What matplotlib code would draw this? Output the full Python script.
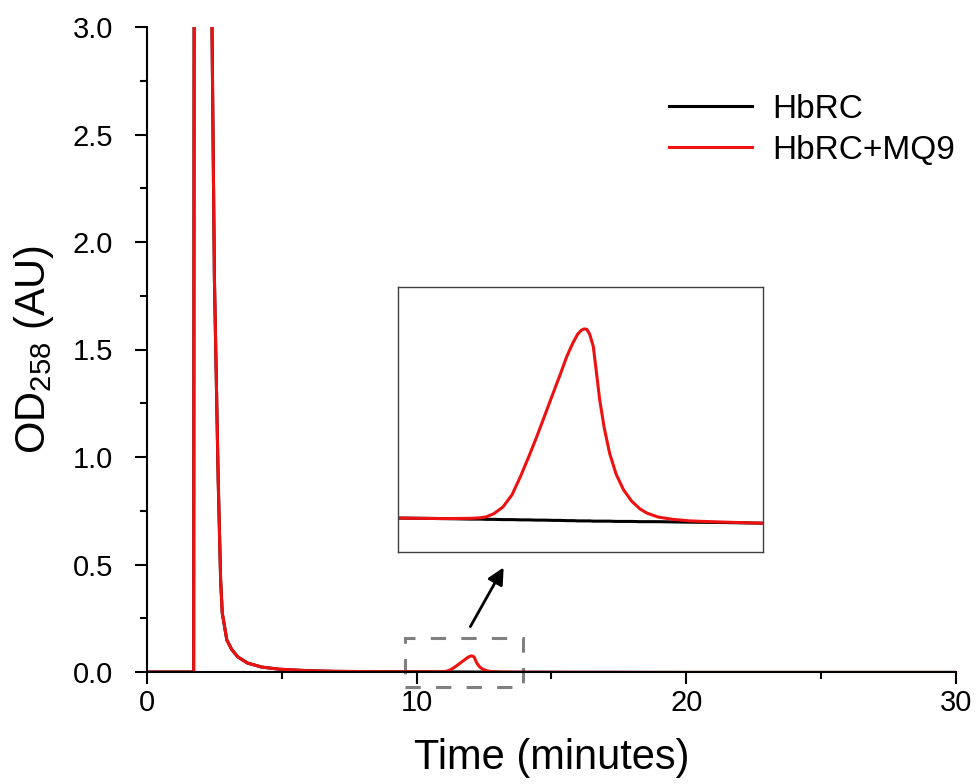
import numpy as np
import matplotlib
matplotlib.use("Agg")
import matplotlib.pyplot as plt
from matplotlib.patches import Rectangle
from matplotlib.ticker import MultipleLocator, FormatStrFormatter

plt.rcParams['font.family'] = ['Liberation Sans', 'DejaVu Sans']
plt.rcParams['mathtext.fontset'] = 'custom'
plt.rcParams['mathtext.rm'] = 'Liberation Sans'

# elution time (minutes) and OD258 readings
time = [0, 1.73, 1.75, 2.36, 2.41, 2.50, 2.64, 2.73, 2.79, 2.96, 3.14, 3.37, 3.72,
        4.25, 4.90, 6.00, 7.00, 8.00, 9.00, 10.0, 10.5, 10.80, 10.90, 10.97, 11.05,
        11.15, 11.25, 11.34, 11.43, 11.52, 11.61, 11.70, 11.78, 11.85, 11.92, 11.97,
        12.01, 12.04, 12.07, 12.10, 12.14, 12.18, 12.21, 12.26, 12.32, 12.39, 12.47,
        12.56, 12.65, 12.73, 12.85, 13.01, 13.2, 13.5, 14.0, 16.0, 20.0, 25.0, 30.0]
hbrc = [0, 0, 3.6, 3.6, 3.0, 1.83, 0.894, 0.43, 0.275, 0.149, 0.105, 0.07, 0.042,
        0.023, 0.013, 0.006, 0.003, 0.002, 0.0012, 0.0009, 0.0007, 0.0005, 0.0005,
        0.0004, 0.0004, 0.0003, 0.0003, 0.0002, 0.0002, 0.0001, 0.0001, 0.0, 0.0,
        -0.0001, -0.0001, -0.0002, -0.0002, -0.0002, -0.0002, -0.0002, -0.0003,
        -0.0003, -0.0003, -0.0003, -0.0003, -0.0004, -0.0004, -0.0004, -0.0005,
        -0.0005, -0.0005, -0.0006, -0.0007, -0.0008, -0.0011, -0.0015, -0.002,
        -0.002, -0.002]
hbrc_mq9 = [0, 0, 3.6, 3.6, 3.0, 1.83, 0.894, 0.43, 0.275, 0.149, 0.105, 0.07, 0.042,
            0.023, 0.013, 0.006, 0.003, 0.002, 0.0012, 0.0009, 0.0007, 0.0008, 0.0010,
            0.0014, 0.0026, 0.0052, 0.0100, 0.0169, 0.0245, 0.0325, 0.0410, 0.0495,
            0.0570, 0.0638, 0.0693, 0.0725, 0.0740, 0.0745, 0.0743, 0.0725, 0.0677,
            0.0560, 0.0470, 0.0360, 0.0260, 0.0180, 0.0120, 0.0075, 0.0045, 0.0028,
            0.0013, 0.0004, -0.0002, -0.0006, -0.0011, -0.0015, -0.002, -0.002, -0.002]
labels = ["HbRC", "HbRC+MQ9"]

fig = plt.figure(figsize=(9.79, 7.84), dpi=100)
ax = fig.add_axes([147 / 979, 1 - 672 / 784, 809 / 979, 645 / 784])

ax.plot(time, hbrc, color='black', lw=2.2, label=labels[0])
ax.plot(time, hbrc_mq9, color='#ee1111', lw=2.2, label=labels[1])

ax.set_xlim(0, 30)
ax.set_ylim(0, 3.0)
ax.xaxis.set_major_locator(MultipleLocator(10))
ax.xaxis.set_minor_locator(MultipleLocator(5))
ax.yaxis.set_major_locator(MultipleLocator(0.5))
ax.yaxis.set_minor_locator(MultipleLocator(0.25))
ax.yaxis.set_major_formatter(FormatStrFormatter('%.1f'))
ax.tick_params(which='major', length=8.5, width=1.5)
ax.tick_params(which='minor', length=5, width=1.5)
ax.tick_params(axis='x', which='major', labelsize=21, pad=4)
ax.tick_params(axis='y', which='major', labelsize=21, pad=16)
for s in ['top', 'right']:
    ax.spines[s].set_visible(False)
for s in ['left', 'bottom']:
    ax.spines[s].set_linewidth(1.5)

ax.set_xlabel('Time (minutes)', fontsize=30, labelpad=15)
ax.set_ylabel(r'OD$_\mathregular{258}$ (AU)', fontsize=30, labelpad=12)

ax.legend(loc='upper left', bbox_to_anchor=(652 / 979, 1 - 77 / 784),
          bbox_transform=fig.transFigure, frameon=False, fontsize=24,
          handlelength=2.5, handletextpad=0.6, labelspacing=0.3, borderpad=0)

# dashed box around the small peak
box = Rectangle((9.55, -0.068), 4.38, 0.225, fill=False, ec='#808080', lw=2.2,
                ls=(0, (5, 5)), clip_on=False)
ax.add_patch(box)

# arrow to the inset
ax.annotate('', xy=(505, 784 - 565), xytext=(469, 784 - 629),
            xycoords='figure pixels', textcoords='figure pixels',
            arrowprops=dict(arrowstyle='-|>', color='black', lw=2, mutation_scale=25))

# inset zoom of the peak
ins = fig.add_axes([398 / 979, 1 - 552 / 784, 365 / 979, 265 / 784])
ins.plot(time, hbrc, color='black', lw=2.2)
ins.plot(time, hbrc_mq9, color='#ee1111', lw=2.2)
ins.set_xlim(10.0, 14.0)
ins.set_ylim(-0.0123, 0.0908)
ins.set_xticks([])
ins.set_yticks([])
for s in ins.spines.values():
    s.set_color('#404040')
    s.set_linewidth(1.0)

fig.savefig('out.png', dpi=100)
